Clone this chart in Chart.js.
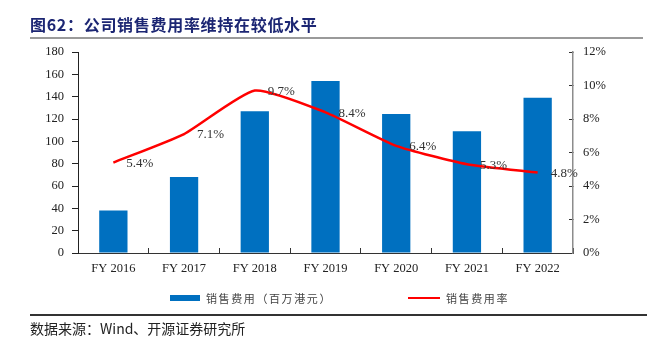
<!DOCTYPE html>
<html>
<head>
<meta charset="utf-8">
<script src="https://cdn.jsdelivr.net/npm/chart.js@4/dist/chart.umd.min.js"></script>
<style>
  html, body { margin: 0; padding: 0; background: #fff; }
  #wrap { position: relative; width: 647px; height: 340px; overflow: hidden; }
  #chart { position: absolute; left: 0; top: 0; }
  .title {
    position: absolute; left: 30px; top: 12px;
    font-family: "Noto Sans CJK SC", sans-serif; font-weight: bold;
    font-size: 16px; letter-spacing: 0.7px; color: #1c2673; white-space: nowrap;
  }
  .rule-top { position: absolute; left: 30px; right: 4px; top: 37px; height: 2px; background: #9a9a9a; }
  .rule-bottom { position: absolute; left: 30px; right: 0; top: 314px; height: 1.5px; background: #333; }
  .source {
    position: absolute; left: 30px; top: 318px;
    font-family: "Noto Sans CJK SC", sans-serif; font-size: 14px; color: #222; white-space: nowrap;
  }
  .legend {
    position: absolute; top: 289px; height: 18px; display: flex; align-items: center;
    font-family: "Noto Sans CJK SC", sans-serif; font-size: 11px; letter-spacing: 1.6px; color: #444; white-space: nowrap;
  }
  .sw-bar { width: 30px; height: 6px; background: #0070c0; margin-right: 6px; }
  .sw-line { width: 32px; height: 2.5px; background: #ff0000; margin-right: 6px; }
</style>
</head>
<body>
<div id="wrap">
  <canvas id="chart" width="647" height="340"></canvas>
  <div class="title">图62：公司销售费用率维持在较低水平</div>
  <div class="rule-top"></div>
  <div class="legend" id="lg1" style="left:170px"><div class="sw-bar"></div><span></span></div>
  <div class="legend" id="lg2" style="left:408px"><div class="sw-line"></div><span></span></div>
  <div class="rule-bottom"></div>
  <div class="source">数据来源：Wind、开源证券研究所</div>
</div>
<script>
const years = ["FY 2016", "FY 2017", "FY 2018", "FY 2019", "FY 2020", "FY 2021", "FY 2022"];
const salesExpense = [38, 68, 127, 154, 124.5, 109, 139];
const salesRate = [5.4, 7.1, 9.7, 8.4, 6.4, 5.3, 4.8];
const leftTicks = [0, 180, 20];
const rightTicks = [0, 12, 2];
const barLabel = "销售费用（百万港元）";
const lineLabel = "销售费用率";

document.querySelector("#lg1 span").textContent = barLabel;
document.querySelector("#lg2 span").textContent = lineLabel;

const tickFont = { family: "'Liberation Serif', serif", size: 12.5 };

// percent labels to the right of each line point
const rateLabels = {
  id: "rateLabels",
  afterDatasetsDraw(chart) {
    const meta = chart.getDatasetMeta(1);
    const ctx = chart.ctx;
    ctx.save();
    ctx.font = "13px 'Liberation Serif', serif";
    ctx.fillStyle = "#333";
    ctx.textAlign = "left";
    ctx.textBaseline = "middle";
    meta.data.forEach((pt, i) => {
      ctx.fillText(salesRate[i].toFixed(1) + "%", pt.x + 13, pt.y + 1);
    });
    ctx.restore();
  }
};

new Chart(document.getElementById("chart"), {
  type: "bar",
  data: {
    labels: years,
    datasets: [
      {
        label: barLabel,
        data: salesExpense,
        backgroundColor: "#0070c0",
        categoryPercentage: 1,
        barPercentage: 0.4,
        yAxisID: "y",
        order: 1
      },
      {
        type: "line",
        label: lineLabel,
        data: salesRate,
        borderColor: "#ff0000",
        borderWidth: 2.5,
        pointRadius: 0,
        tension: 0.18,
        fill: false,
        yAxisID: "y1",
        order: 0
      }
    ]
  },
  options: {
    responsive: false,
    animation: false,
    layout: { padding: { top: 52, left: 0, right: 0, bottom: 0 } },
    plugins: { legend: { display: false }, tooltip: { enabled: false } },
    scales: {
      x: {
        grid: { drawOnChartArea: false, drawTicks: true, tickLength: -5, color: "#333", offset: true },
        border: { color: "#333", width: 1 },
        ticks: { font: tickFont, color: "#222", padding: 13, autoSkip: false, maxRotation: 0 },
        afterFit(s) { s.height = 87; }
      },
      y: {
        position: "left",
        min: leftTicks[0], max: leftTicks[1],
        grid: { drawOnChartArea: false, tickLength: 6, color: "#222" },
        border: { color: "#222", width: 1 },
        ticks: { stepSize: leftTicks[2], font: tickFont, color: "#222", padding: 8 },
        afterFit(s) { s.width = 78; }
      },
      y1: {
        position: "right",
        min: rightTicks[0], max: rightTicks[1],
        grid: { drawOnChartArea: false, tickLength: -4, color: "#333" },
        border: { color: "#8c8c8c", width: 1.5 },
        ticks: { stepSize: rightTicks[2], font: tickFont, color: "#222", padding: 14, callback: v => v + "%" },
        afterFit(s) { s.width = 74; }
      }
    }
  },
  plugins: [rateLabels]
});
</script>
</body>
</html>
